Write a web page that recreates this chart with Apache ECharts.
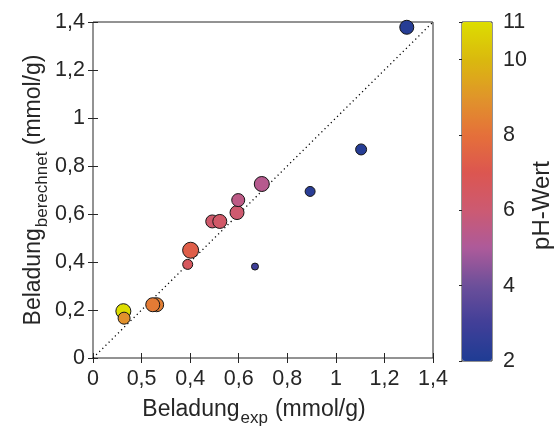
<!DOCTYPE html>
<html>
<head>
<meta charset="utf-8">
<script src="https://cdn.jsdelivr.net/npm/echarts@6/dist/echarts.min.js"></script>
<style>
  html, body { margin: 0; padding: 0; background: #fff; }
  #chart { width: 557px; height: 432px; }
</style>
</head>
<body>
<div id="chart"></div>
<script>
// Measured loading vs. calculated loading, coloured by pH, marker size per sample
const expLoading  = [0.125, 0.128, 0.262, 0.246, 0.390, 0.402, 0.491, 0.522, 0.593, 0.598, 0.695, 0.667, 0.894, 1.104, 1.292];
const calcLoading = [0.195, 0.166, 0.222, 0.222, 0.390, 0.449, 0.569, 0.569, 0.606, 0.658, 0.725, 0.381, 0.694, 0.869, 1.378];
const phValue     = [11.0,  8.9,   8.4,   8.3,   6.6,   7.3,   6.2,   6.3,   6.1,   5.5,   5.3,   2.9,   2.3,   2.2,   2.2];
const markerSize  = [15,    12,    14,    14,    10,    16,    13,    14,    14,    13,    15,    7,     10,    11,    14];

const xTickLabels = ['0', '0,5', '0,4', '0,6', '0,8', '1', '1,2', '1,4'];
const yTickLabels = ['0', '0,2', '0,4', '0,6', '0,8', '1', '1,2', '1,4'];
const phTicks = [2, 4, 6, 8, 10, 11];

// colour map from pH 2 (blue) to pH 11 (yellow), one stop per pH unit
const phColors = ['#1f3c94', '#413f98', '#6c4f9a', '#ad5a9a', '#cc5a72', '#dc5650', '#e5703a', '#e0952a', '#dab90e', '#dddd00'];

const FONT = 'Liberation Sans';
const INK = '#262626';
const TICK_FONT = 21.5;

const points = expLoading.map((x, i) => [x, calcLoading[i], phValue[i], markerSize[i]]);

const titleRich = {
  m: { fontSize: 23, fontFamily: FONT, color: INK, verticalAlign: 'top', lineHeight: 24 },
  u: { fontSize: 23, fontFamily: FONT, color: INK, verticalAlign: 'top', lineHeight: 24, padding: [0, 18, 0, 7] },
  s: { fontSize: 17, fontFamily: FONT, color: INK, verticalAlign: 'top', padding: [12, 0, 0, 1], lineHeight: 18 }
};

const chart = echarts.init(document.getElementById('chart'));
chart.setOption({
  animation: false,
  backgroundColor: '#fff',
  textStyle: { fontFamily: FONT, color: INK },
  grid: [
    { left: 93, top: 22, width: 340, height: 339, show: true, borderColor: INK, borderWidth: 1 },
    { left: 462, top: 22, width: 30, height: 339, show: true, borderColor: INK, borderWidth: 1, backgroundColor: 'transparent' }
  ],
  xAxis: [
    {
      gridIndex: 0, type: 'value', min: 0, max: 1.4, interval: 0.2,
      axisLine: { show: false },
      axisTick: { inside: true, length: 5, lineStyle: { color: INK } },
      splitLine: { show: false },
      axisLabel: { fontSize: TICK_FONT, color: INK, margin: 10, fontFamily: FONT,
        formatter: v => xTickLabels[Math.round(v / 0.2)] },
      name: '{m|Beladung}{s|exp}{u|(mmol/g)}',
      nameLocation: 'middle', nameGap: 40, nameMoveOverlap: false,
      nameTextStyle: { rich: titleRich }
    },
    {
      gridIndex: 0, type: 'value', position: 'top', min: 0, max: 1.4, interval: 0.2,
      axisLine: { show: false },
      axisTick: { inside: true, length: 5, lineStyle: { color: INK } },
      axisLabel: { show: false }, splitLine: { show: false }
    },
    {
      gridIndex: 1, type: 'value', min: 0, max: 1, show: false
    }
  ],
  yAxis: [
    {
      gridIndex: 0, type: 'value', min: 0, max: 1.4, interval: 0.2,
      axisLine: { show: false },
      axisTick: { inside: true, length: 5, lineStyle: { color: INK } },
      splitLine: { show: false },
      axisLabel: { fontSize: TICK_FONT, color: INK, margin: 8, fontFamily: FONT,
        formatter: v => yTickLabels[Math.round(v / 0.2)] },
      name: '{m|Beladung}{s|berechnet}{m| (mmol/g)}',
      nameLocation: 'middle', nameGap: 47, nameRotate: 90, nameMoveOverlap: false,
      nameTextStyle: { rich: titleRich }
    },
    {
      gridIndex: 0, type: 'value', position: 'right', min: 0, max: 1.4, interval: 0.2,
      axisLine: { show: false },
      axisTick: { inside: true, length: 5, lineStyle: { color: INK } },
      axisLabel: { show: false }, splitLine: { show: false }
    },
    {
      gridIndex: 1, type: 'value', position: 'right', min: 2, max: 11, interval: 2,
      axisLine: { show: false },
      axisTick: { inside: true, length: 3, lineStyle: { color: INK } },
      splitLine: { show: false },
      axisLabel: { fontSize: TICK_FONT, color: INK, margin: 11, fontFamily: FONT,
        formatter: v => (phTicks.indexOf(Math.round(v)) >= 0 ? String(Math.round(v)) : '') },
      name: 'pH-Wert', nameLocation: 'middle', nameGap: 38, nameRotate: 90,
      nameTextStyle: { fontSize: 24, color: INK, fontFamily: FONT, padding: [0, 28, 0, 0] }
    }
  ],
  visualMap: {
    type: 'continuous',
    seriesIndex: 1,
    dimension: 2,
    min: 2, max: 11,
    orient: 'vertical',
    left: 462, top: 22,
    itemWidth: 30, itemHeight: 339,
    padding: 0,
    text: null,
    calculable: false,
    showLabel: false,
    realtime: false,
    hoverLink: false,
    inRange: { color: phColors }
  },
  series: [
    {
      // 1:1 reference line
      type: 'line',
      xAxisIndex: 0, yAxisIndex: 0,
      data: [[0, 0], [1.4, 1.4]],
      symbol: 'none',
      silent: true,
      lineStyle: { color: '#000', width: 1.3, type: [1.2, 3.2] },
      z: 1
    },
    {
      type: 'scatter',
      xAxisIndex: 0, yAxisIndex: 0,
      data: points,
      symbol: 'circle',
      symbolSize: d => d[3],
      itemStyle: { borderColor: '#151515', borderWidth: 1, opacity: 1 },
      z: 3
    }
  ]
});
</script>
</body>
</html>
